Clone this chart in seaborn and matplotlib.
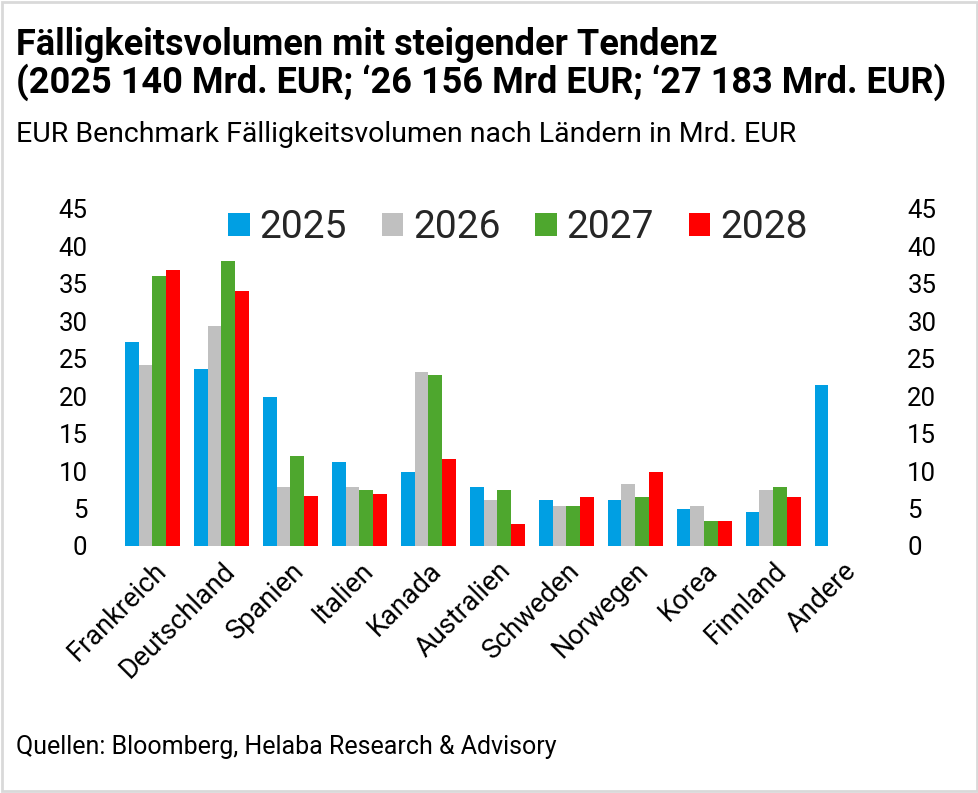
import numpy as np
import pandas as pd
import matplotlib
matplotlib.use("Agg")
import matplotlib.pyplot as plt
import seaborn as sns
from matplotlib.patches import Rectangle

# data (Mrd. EUR)
countries = ["Frankreich", "Deutschland", "Spanien", "Italien", "Kanada", "Australien",
             "Schweden", "Norwegen", "Korea", "Finnland", "Andere"]
years = ["2025", "2026", "2027", "2028"]
v2025 = [27.3, 23.6, 19.9, 11.2, 9.9, 7.9, 6.2, 6.2, 5.0, 4.6, 21.5]
v2026 = [24.1, 29.4, 7.9, 7.9, 23.2, 6.2, 5.4, 8.3, 5.4, 7.5, np.nan]
v2027 = [36.0, 38.1, 12.0, 7.5, 22.8, 7.5, 5.4, 6.6, 3.3, 7.9, np.nan]
v2028 = [36.8, 34.0, 6.7, 7.0, 11.6, 2.9, 6.6, 9.9, 3.3, 6.6, np.nan]
colors = ["#009FE3", "#C0C0C0", "#4EA72E", "#FF0000"]

df = pd.DataFrame({"Land": countries, "2025": v2025, "2026": v2026,
                   "2027": v2027, "2028": v2028})
long = df.melt(id_vars="Land", var_name="Jahr", value_name="Wert").dropna()

sns.set_style("white")
plt.rcParams["font.family"] = ["Roboto", "DejaVu Sans"]

fig = plt.figure(figsize=(9.79, 7.93), dpi=100)
ax = fig.add_axes([0.1205, 0.3115, 0.775, 0.425])

sns.barplot(data=long, x="Land", y="Wert", hue="Jahr", order=countries,
            hue_order=years, palette=colors, width=0.8, saturation=1,
            linewidth=0, ax=ax)

ax.set_ylim(0, 45)
ax.set_yticks(range(0, 46, 5))
ax.set_xlabel("")
ax.set_ylabel("")
for s in ax.spines.values():
    s.set_visible(False)
ax.tick_params(axis="y", length=0, pad=22, labelsize=18.5, labelcolor="black")
ax.tick_params(axis="x", length=0, pad=8, labelsize=19.5, labelcolor="black")
plt.setp(ax.get_xticklabels(), rotation=45, ha="right", rotation_mode="anchor")

ax2 = ax.twinx()
ax2.set_ylim(0, 45)
ax2.set_yticks(range(0, 46, 5))
for s in ax2.spines.values():
    s.set_visible(False)
ax2.tick_params(axis="y", length=0, pad=22, labelsize=18.5, labelcolor="black")

ax.legend(loc="center", bbox_to_anchor=(0.527, 0.944), ncol=4, frameon=False,
          fontsize=28, handlelength=0.55, handleheight=0.55, handletextpad=0.25,
          columnspacing=0.9)

fig.text(0.016, 0.966, "Fälligkeitsvolumen mit steigender Tendenz\n"
         "(2025 140 Mrd. EUR; ‘26 156 Mrd EUR; ‘27 183 Mrd. EUR)",
         fontsize=26, fontweight="bold", va="top", ha="left", linespacing=1.03,
         color="black")
fig.text(0.016, 0.830, "EUR Benchmark Fälligkeitsvolumen nach Ländern in Mrd. EUR",
         fontsize=20.5, va="center", ha="left", color="black")
fig.text(0.016, 0.058, "Quellen: Bloomberg, Helaba Research & Advisory",
         fontsize=18, va="center", ha="left", color="black")

fig.patches.append(Rectangle((0.002, 0.002), 0.996, 0.996, transform=fig.transFigure,
                             fill=False, edgecolor="#D9D9D9", linewidth=2))

fig.savefig("out.png", dpi=100)
